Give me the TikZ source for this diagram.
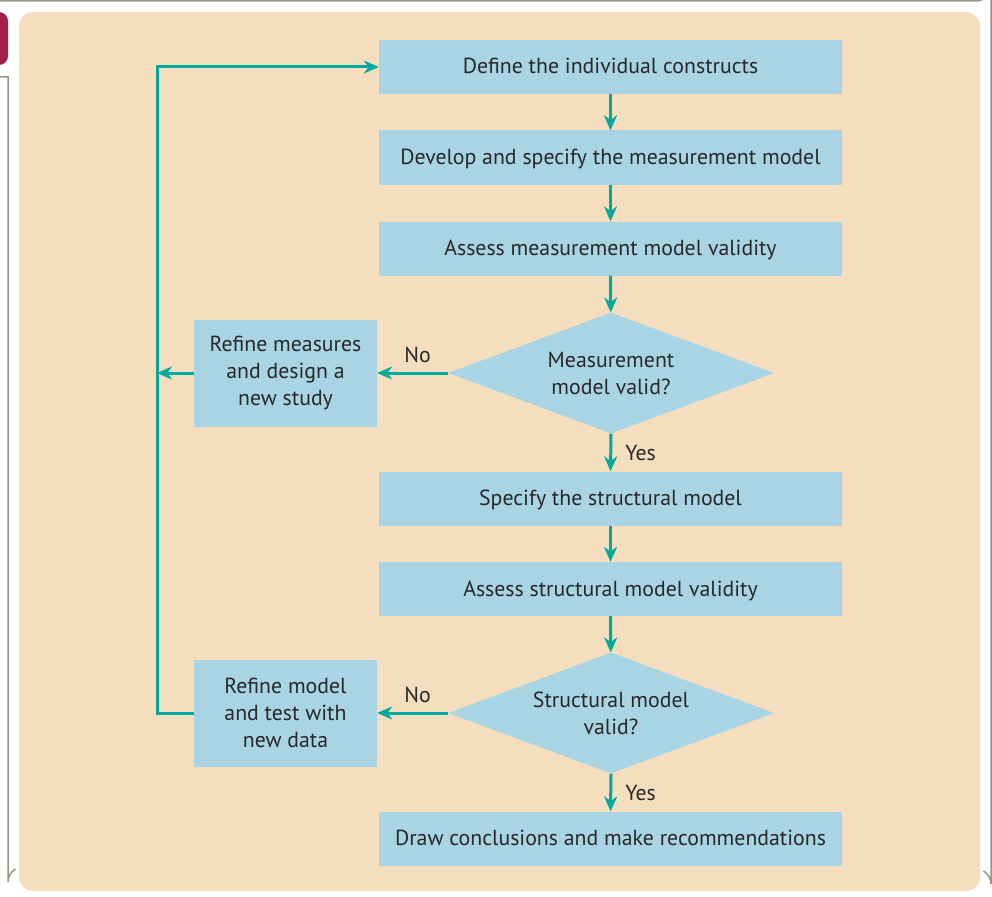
\documentclass[tikz,border=0pt]{standalone}
\usepackage{fontspec}
\setmainfont{PT Sans}
\usetikzlibrary{shapes.geometric,arrows.meta}
\definecolor{panel}{RGB}{245,222,190}
\definecolor{boxblue}{RGB}{168,212,228}
\definecolor{teal}{RGB}{0,169,157}
\definecolor{framegrey}{RGB}{150,150,135}
\definecolor{maroon}{RGB}{163,31,74}
\definecolor{txt}{RGB}{40,40,40}
\tikzset{
  txtfont/.style={font=\fontsize{21.8}{27}\selectfont},
  stepbox/.style={fill=boxblue, draw=none, minimum width=463pt, minimum height=54pt, inner sep=0pt, text height=14pt, text depth=0pt, text=txt, txtfont},
  sidebox/.style={fill=boxblue, draw=none, minimum width=183pt, minimum height=107pt, inner sep=0pt, align=center, text=txt, txtfont},
  decision/.style={diamond, fill=boxblue, draw=none, aspect=2.69, minimum width=326pt, minimum height=121pt, inner sep=0pt, align=center, text=txt, txtfont},
  flow/.style={draw=teal, line width=3pt, line join=miter, -{Stealth[length=15pt,width=13pt]}},
  lbl/.style={text=txt, txtfont, inner sep=0pt}
}
\begin{document}
\begin{tikzpicture}[x=1pt,y=-1pt]
\useasboundingbox (0,0) rectangle (992,896);
% outer frame
\draw[framegrey, line width=1.5pt] (0,1) -- (976,1) arc[start angle=90, end angle=0, radius=15] -- (991,884) arc[start angle=0, end angle=-60, radius=15];
\draw[framegrey, line width=1.5pt] (0,77) -- (8,77) -- (8,882) arc[start angle=180, end angle=240, radius=15];
\fill[maroon, rounded corners=9pt] (-12,12) rectangle (8,65);
% panel
\fill[panel, rounded corners=14pt] (19,12) rectangle (980,891);
% nodes
\node[stepbox] (b1) at (610.5,67) {Define the individual constructs};
\node[stepbox] (b2) at (610.5,157.5) {Develop and specify the measurement model};
\node[stepbox] (b3) at (610.5,248.5) {Assess measurement model validity};
\node[decision] (d1) at (611,373) {Measurement\\model valid?};
\node[sidebox] (r1) at (285.5,373) {Refine measures\\and design a\\new study};
\node[stepbox] (b4) at (610.5,498.5) {Specify the structural model};
\node[stepbox] (b5) at (610.5,589) {Assess structural model validity};
\node[decision] (d2) at (611,713) {Structural model\\valid?};
\node[sidebox] (r2) at (285.5,713) {Refine model\\and test with\\new data};
\node[stepbox] (b6) at (610.5,838.5) {Draw conclusions and make recommendations};
\coordinate (c1) at (157,373);
\coordinate (c2) at (157,713);
% connectors
\draw[flow] (b1) -- (b2);
\draw[flow] (b2) -- (b3);
\draw[flow] (b3) -- (d1);
\draw[flow] (d1.west) -- node[lbl, above=9pt, xshift=5pt] (no1) {No} (r1.east);
\draw[flow] (d1.south) -- node[lbl, right=13pt] (yes1) {Yes} (b4.north);
\draw[flow] (r1.west) -- (c1);
\draw[flow] (b4) -- (b5);
\draw[flow] (b5) -- (d2);
\draw[flow] (d2.west) -- node[lbl, above=9pt, xshift=5pt] (no2) {No} (r2.east);
\draw[flow] (d2.south) -- node[lbl, right=13pt] (yes2) {Yes} (b6.north);
\draw[flow] (r2.west) -- (c2) |- (b1.west);
\end{tikzpicture}
\end{document}
